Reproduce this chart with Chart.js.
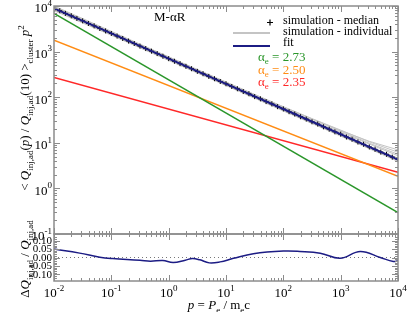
<!DOCTYPE html>
<html lang="en">
<head>
<meta charset="UTF-8">
<title>M-αR injection spectrum</title>
<script src="https://cdn.jsdelivr.net/npm/chart.js@4"></script>
<style>
  html, body { margin: 0; padding: 0; background: #fff; }
  #wrap { position: relative; width: 415px; height: 312px; }
  canvas { position: absolute; left: 0; top: 0; }
</style>
</head>
<body>
<div id="wrap">
  <canvas id="mainChart" width="415" height="312"></canvas>
  <canvas id="residChart" width="415" height="312"></canvas>
</div>
<script>
// p = P_e / m_e c grid of the median points
const pGrid = [0.01,0.0126,0.0158,0.02,0.0251,0.0316,0.0398,0.0501,0.0631,0.0794,
  0.1,0.126,0.158,0.2,0.251,0.316,0.398,0.501,0.631,0.794,
  1,1.26,1.58,2,2.51,3.16,3.98,5.01,6.31,7.94,
  10,12.6,15.8,20,25.1,31.6,39.8,50.1,63.1,79.4,
  100,126,158,200,251,316,398,501,631,794,
  1000,1260,1580,2000,2510,3160,3980,5010,6310,7940,10000];
const medianVals = [8900,7870,6890,6100,5340,4730,4140,3670,3210,2840,
  2500,2190,1940,1700,1505,1318,1165,1022,904,792,
  700,614,543,476,421,369,327,286,254,221,
  197,172,153,133,119,103,92,80,71.3,62,
  55.2,48.1,42.8,37.3,33.2,28.9,25.8,22.4,19.9,17.4,
  15.5,13.4,12.0,10.4,9.3,8.1,7.2,6.25,5.6,4.85,4.32];

// individual clusters, sampled every half decade
const pHalf = [0.01,0.0316,0.1,0.316,1,3.16,10,31.6,100,316,1000,3160,10000];
const individual = [
  [9800,5150,2720,1420,760,400,215,115,62,34,19,10.5,6.2],
  [8100,4350,2330,1240,650,345,182,97,51,27,14.5,7.6,4.0],
  [9300,4900,2600,1380,730,390,208,112,60,33,18,9.8,5.6],
  [8500,4550,2400,1270,675,358,190,101,53,28.5,15.5,8.4,4.6],
  [10000,5300,2780,1460,770,405,214,114,61,33.5,18.5,10.8,7.0],
  [7900,4250,2280,1210,640,340,180,95,50,26.5,14,7.4,3.9],
  [9500,4950,2620,1390,740,392,205,108,57,31,17,9.4,5.2]
];

// fit
const pFit = [0.01,0.1,1,10,100,1000,10000];
const fitVals = [8900,2500,700,196,55,15.4,4.3];

// power laws p^-(alpha_e - 2)
const pEnds = [0.01, 10000];
const green273 = [6900, 0.295];
const orange250 = [1780, 1.84];
const red235 = [271, 2.25];

// residual of the fit
const pResid = [0.01,0.028,0.063,0.105,0.316,0.48,0.79,1.2,1.95,2.6,3.5,5.1,7.9,13.5,30,100,195,440,980,2200,4900,8300,10000];
const residVals = [0.05,0.026,0.002,-0.006,-0.016,-0.022,-0.018,-0.03,-0.016,-0.006,-0.014,-0.032,-0.026,-0.005,0.022,0.038,0.036,0.026,-0.004,0.036,0.0,-0.024,-0.02];
const residTicks = [0.10, 0.05, 0.00, -0.05, -0.10];

const BLUE = '#1c1c84', GREEN = '#2a962a', ORANGE = '#ff8c14', RED = '#ff2828', GRAY = '#c4c4c4';
const FRAME = '#8c8c8c';
const SERIF = '"Liberation Serif", "DejaVu Serif", serif';

const pts = (xs, ys) => xs.map((x, i) => ({ x: x, y: ys[i] }));

// ---- rich text helpers (italics, sub/superscripts) ----
function partFont(kind, size) {
  const small = kind === 'sub' || kind === 'sup';
  const s = small ? Math.round(size * 0.7) : size;
  const it = kind === 'i' ? 'italic ' : '';
  return it + s + 'px ' + SERIF;
}
function richWidth(ctx, parts, size) {
  let w = 0;
  parts.forEach(([t, k]) => { ctx.font = partFont(k, size); w += ctx.measureText(t).width; });
  return w;
}
function drawRich(ctx, parts, x, y, size, align) {
  const w = richWidth(ctx, parts, size);
  let cx = align === 'center' ? x - w / 2 : align === 'right' ? x - w : x;
  ctx.textAlign = 'left';
  parts.forEach(([t, k]) => {
    ctx.font = partFont(k, size);
    const dy = k === 'sub' ? size * 0.3 : k === 'sup' ? -size * 0.42 : 0;
    ctx.fillText(t, cx, y + dy);
    cx += ctx.measureText(t).width;
  });
}

function logTicks(d0, d1) {
  const out = [];
  for (let d = d0; d <= d1; d++) {
    out.push({ v: Math.pow(10, d), major: true });
    if (d < d1) for (let m = 2; m <= 9; m++) out.push({ v: m * Math.pow(10, d), major: false });
  }
  return out;
}

function drawFrameTicks(ctx, chart, xTicks, yTicks) {
  const a = chart.chartArea, sx = chart.scales.x, sy = chart.scales.y;
  ctx.save();
  ctx.strokeStyle = FRAME;
  ctx.lineWidth = 1;
  ctx.beginPath();
  xTicks.forEach(t => {
    const px = Math.round(sx.getPixelForValue(t.v)) + 0.5;
    const len = t.major ? 6 : 3;
    ctx.moveTo(px, a.bottom); ctx.lineTo(px, a.bottom - len);
    ctx.moveTo(px, a.top); ctx.lineTo(px, a.top + len);
  });
  yTicks.forEach(t => {
    const py = Math.round(sy.getPixelForValue(t.v)) + 0.5;
    const len = t.major ? 6 : 3;
    ctx.moveTo(a.left, py); ctx.lineTo(a.left + len, py);
    ctx.moveTo(a.right, py); ctx.lineTo(a.right - len, py);
  });
  ctx.stroke();
  ctx.lineWidth = 1.5;
  ctx.strokeRect(a.left, a.top, a.right - a.left, a.bottom - a.top);
  ctx.restore();
}

const mainAxes = {
  id: 'mainAxes',
  afterDraw(chart) {
    const ctx = chart.ctx, sy = chart.scales.y;
    drawFrameTicks(ctx, chart, logTicks(-2, 4), logTicks(-1, 4));
    ctx.save();
    ctx.fillStyle = '#000';
    ctx.textBaseline = 'middle';
    for (let d = -1; d <= 4; d++) {
      const py = sy.getPixelForValue(Math.pow(10, d));
      drawRich(ctx, [['10', 'n'], [String(d), 'sup']], 52, py + 3, 13, 'right');
    }
    // y title
    ctx.save();
    ctx.translate(29, 108);
    ctx.rotate(-Math.PI / 2);
    ctx.textBaseline = 'alphabetic';
    drawRich(ctx, [['< ', 'n'], ['Q', 'i'], ['inj,ad', 'sub'], ['(', 'n'], ['p', 'i'], [') / ', 'n'],
      ['Q', 'i'], ['inj,ad', 'sub'], ['(10) >', 'n'], ['cluster', 'sub'], [' p', 'i'], ['2', 'sup']], 0, 0, 13, 'center');
    ctx.restore();
    // label and legend
    ctx.font = '13px ' + SERIF;
    ctx.textAlign = 'left';
    ctx.fillText('M-αR', 154, 18);
    ctx.font = '12px ' + SERIF;
    ctx.fillText('simulation - median', 283, 21);
    ctx.fillText('simulation - individual', 283, 32);
    ctx.fillText('fit', 283, 43);
    ctx.strokeStyle = '#000'; ctx.lineWidth = 1.2;
    ctx.beginPath();
    ctx.moveTo(267, 22.5); ctx.lineTo(273, 22.5);
    ctx.moveTo(270, 19.5); ctx.lineTo(270, 25.5);
    ctx.stroke();
    ctx.lineWidth = 2;
    ctx.strokeStyle = GRAY;
    ctx.beginPath(); ctx.moveTo(233, 33); ctx.lineTo(270, 33); ctx.stroke();
    ctx.strokeStyle = BLUE;
    ctx.beginPath(); ctx.moveTo(233, 46); ctx.lineTo(270, 46); ctx.stroke();
    [[GREEN, '2.73', 58], [ORANGE, '2.50', 71], [RED, '2.35', 83]].forEach(([c, v, y]) => {
      ctx.fillStyle = c;
      drawRich(ctx, [['α', 'n'], ['e', 'sub'], [' = ' + v, 'n']], 258, y, 13, 'left');
    });
    ctx.restore();
  }
};

const residAxes = {
  id: 'residAxes',
  afterDraw(chart) {
    const ctx = chart.ctx, sx = chart.scales.x, sy = chart.scales.y;
    const yT = [];
    for (let k = -12; k <= 12; k++) yT.push({ v: k / 100, major: k % 5 === 0 });
    drawFrameTicks(ctx, chart, logTicks(-2, 4), yT);
    ctx.save();
    ctx.fillStyle = '#000';
    ctx.textBaseline = 'middle';
    ctx.textAlign = 'right';
    ctx.font = '11px ' + SERIF;
    residTicks.forEach(v => ctx.fillText(v.toFixed(2), 52, sy.getPixelForValue(v) + 0.5));
    for (let d = -2; d <= 4; d++) {
      drawRich(ctx, [['10', 'n'], [String(d), 'sup']], sx.getPixelForValue(Math.pow(10, d)), 294, 13, 'center');
    }
    ctx.textBaseline = 'alphabetic';
    drawRich(ctx, [['p', 'i'], [' = ', 'n'], ['P', 'i'], ['e', 'sub'], [' / m', 'n'], ['e', 'sub'], ['c', 'n']], 219, 309, 13, 'center');
    ctx.translate(29, 259);
    ctx.rotate(-Math.PI / 2);
    drawRich(ctx, [['Δ', 'n'], ['Q', 'i'], ['inj,ad', 'sub'], [' / ', 'n'], ['Q', 'i'], ['inj,ad', 'sub']], 0, 0, 13, 'center');
    ctx.restore();
  }
};

const baseOpts = {
  responsive: false,
  animation: false,
  devicePixelRatio: 1,
  plugins: { legend: { display: false }, tooltip: { enabled: false } },
  elements: { point: { radius: 0 }, line: { tension: 0 } }
};

const mainSets = [
  { data: pts(pFit, fitVals), borderColor: BLUE, borderWidth: 2 },
  { data: pts(pGrid, medianVals), showLine: false, pointStyle: 'cross', pointRadius: 2.5,
    pointBorderColor: '#000', pointBorderWidth: 1 },
  { data: pts(pEnds, green273), borderColor: GREEN, borderWidth: 1.5 },
  { data: pts(pEnds, orange250), borderColor: ORANGE, borderWidth: 1.5 },
  { data: pts(pEnds, red235), borderColor: RED, borderWidth: 1.5 }
];
individual.forEach(vals => mainSets.push({ data: pts(pHalf, vals), borderColor: GRAY, borderWidth: 1 }));

new Chart(document.getElementById('mainChart'), {
  type: 'line',
  data: { datasets: mainSets },
  options: Object.assign({}, baseOpts, {
    layout: { padding: { left: 54, right: 17, top: 6, bottom: 78 } },
    scales: {
      x: { type: 'logarithmic', min: 0.01, max: 10000, display: false },
      y: { type: 'logarithmic', min: 0.1, max: 10000, display: false }
    }
  }),
  plugins: [mainAxes]
});

new Chart(document.getElementById('residChart'), {
  type: 'line',
  data: {
    datasets: [
      { data: pts(pResid, residVals), borderColor: BLUE, borderWidth: 1.5, tension: 0.4 },
      { data: pts(pEnds, [0, 0]), borderColor: '#777', borderWidth: 1, borderDash: [1, 3] }
    ]
  },
  options: Object.assign({}, baseOpts, {
    layout: { padding: { left: 54, right: 17, top: 234, bottom: 31 } },
    scales: {
      x: { type: 'logarithmic', min: 0.01, max: 10000, display: false },
      y: { min: -0.14, max: 0.14, display: false }
    }
  }),
  plugins: [residAxes]
});
</script>
</body>
</html>
